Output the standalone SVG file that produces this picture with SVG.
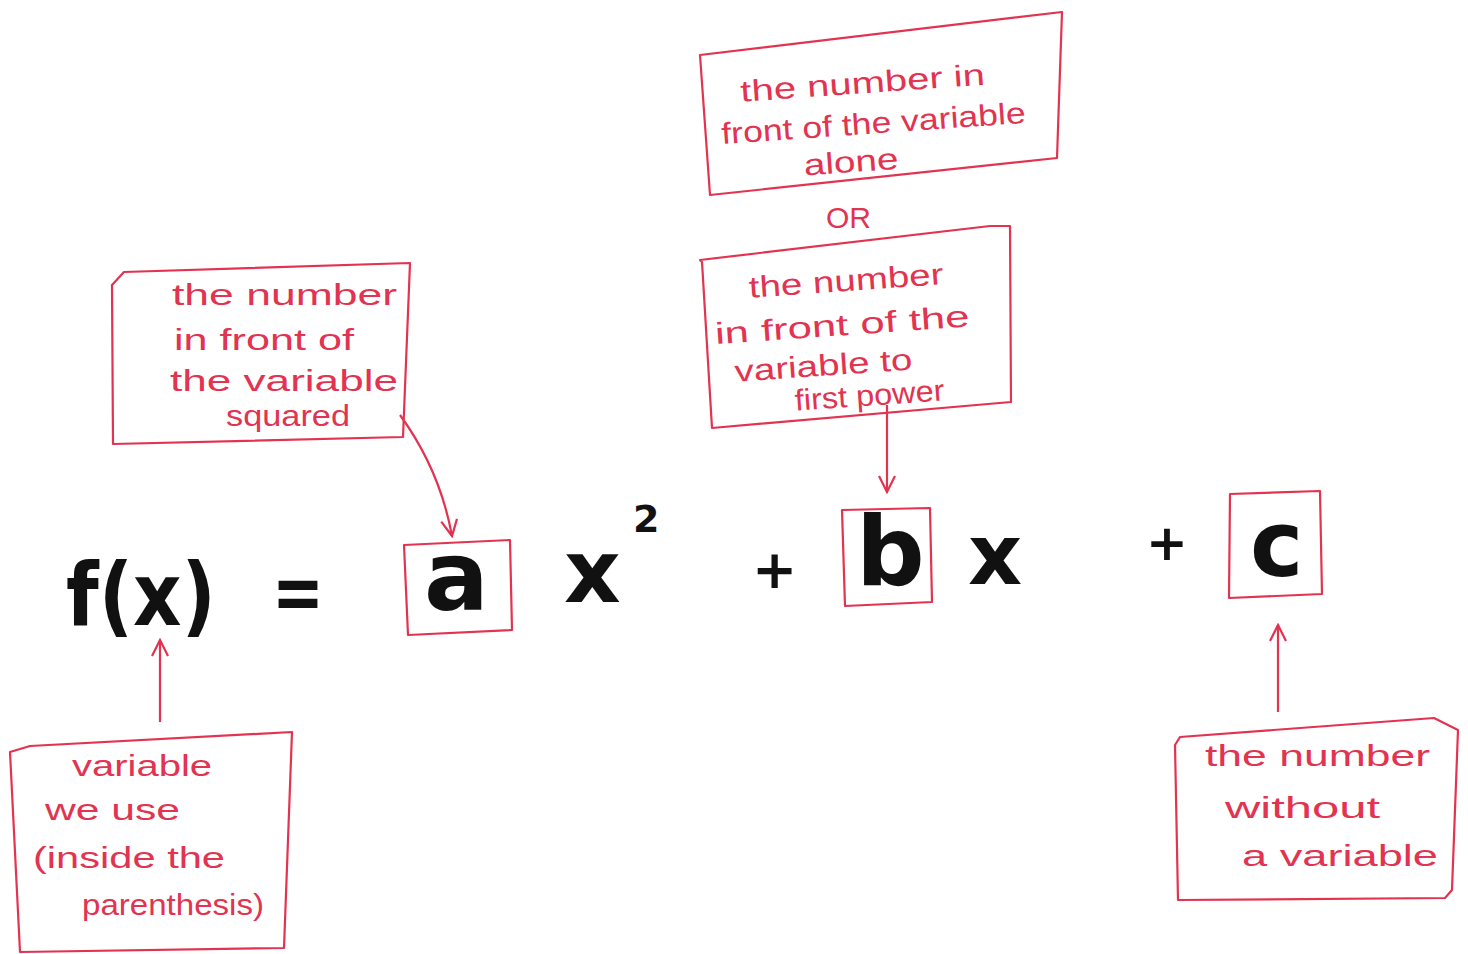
<svg xmlns="http://www.w3.org/2000/svg" width="1468" height="954" viewBox="0 0 1468 954">
<defs>
<style>
.box{fill:none;stroke:#e23350;stroke-width:2.2;stroke-linejoin:round}
.lbl{fill:#e23350;font-family:"Liberation Sans",Arial,sans-serif;font-size:30px}
.eq{fill:#111;font-family:"DejaVu Sans","Liberation Sans",sans-serif;font-weight:bold}
.conn{fill:none;stroke:#e23350;stroke-width:2.2}
</style>
<marker id="ah" viewBox="0 0 20 20" refX="18" refY="10" markerWidth="20" markerHeight="20" markerUnits="userSpaceOnUse" orient="auto">
<path d="M2,2 L18,10 L2,18" fill="none" stroke="#e23350" stroke-width="2.2"/>
</marker>
</defs>
<rect width="1468" height="954" fill="#fff"/>

<g id="equation">
<text class="eq" x="66" y="625" font-size="88" textLength="150" lengthAdjust="spacingAndGlyphs">f(x)</text>
<text class="eq" x="272" y="620" font-size="80" textLength="52" lengthAdjust="spacingAndGlyphs">=</text>
<text class="eq" x="424" y="610" font-size="96">a</text>
<text class="eq" x="564" y="602" font-size="88">x</text>
<text class="eq" x="633" y="532" font-size="38">2</text>
<text class="eq" x="752" y="588" font-size="54">+</text>
<text class="eq" x="856" y="585" font-size="96">b</text>
<text class="eq" x="968" y="584" font-size="84">x</text>
<text class="eq" x="1146" y="560" font-size="50">+</text>
<text class="eq" x="1250" y="576" font-size="90">c</text>
</g>

<g id="box-a">
<polygon class="box" points="404,545 510,540 512,630 408,635"/>
</g>
<g id="box-b">
<polygon class="box" points="842,510 930,508 932,602 845,606"/>
</g>
<g id="box-c">
<polygon class="box" points="1230,494 1320,491 1322,594 1229,598"/>
</g>

<g id="note-alone">
<polygon class="box" points="700,55 1062,12 1057,158 710,195"/>
<g transform="rotate(-4 880 110)">
<text class="lbl" x="742" y="92" textLength="245" lengthAdjust="spacingAndGlyphs">the number in</text>
<text class="lbl" x="720" y="133" textLength="305" lengthAdjust="spacingAndGlyphs">front of the variable</text>
<text class="lbl" x="800" y="170" textLength="95" lengthAdjust="spacingAndGlyphs">alone</text>
</g>
</g>

<g id="or-label">
<text class="lbl" x="826" y="228" font-size="28">OR</text>
</g>

<g id="note-first-power">
<polygon class="box" points="700,260 990,226 1010,226 1011,402 712,428 702,262"/>
<g transform="rotate(-4 860 330)">
<text class="lbl" x="752" y="290" textLength="195" lengthAdjust="spacingAndGlyphs">the number</text>
<text class="lbl" x="715" y="334" textLength="255" lengthAdjust="spacingAndGlyphs">in front of  the</text>
<text class="lbl" x="732" y="373" font-size="28" textLength="178" lengthAdjust="spacingAndGlyphs">variable  to</text>
<text class="lbl" x="790" y="406" font-size="26" textLength="150" lengthAdjust="spacingAndGlyphs">first power</text>
</g>
</g>

<g id="note-squared">
<polygon class="box" points="124,272 410,263 403,437 113,444 112,285"/>
<text class="lbl" x="172" y="305" font-size="34" textLength="225" lengthAdjust="spacingAndGlyphs">the number</text>
<text class="lbl" x="174" y="350" font-size="30" textLength="180" lengthAdjust="spacingAndGlyphs">in front of</text>
<text class="lbl" x="170" y="391" font-size="32" textLength="228" lengthAdjust="spacingAndGlyphs">the variable</text>
<text class="lbl" x="226" y="426" font-size="28" textLength="124" lengthAdjust="spacingAndGlyphs">squared</text>
</g>

<g id="note-variable">
<polygon class="box" points="30,746 292,732 284,948 20,952 10,752"/>
<text class="lbl" x="72" y="776" font-size="34" textLength="140" lengthAdjust="spacingAndGlyphs">variable</text>
<text class="lbl" x="45" y="820" font-size="32" textLength="135" lengthAdjust="spacingAndGlyphs">we use</text>
<text class="lbl" x="33" y="868" font-size="32" textLength="192" lengthAdjust="spacingAndGlyphs">(inside  the</text>
<text class="lbl" x="82" y="915" font-size="32" textLength="182" lengthAdjust="spacingAndGlyphs">parenthesis)</text>
</g>

<g id="note-constant">
<polygon class="box" points="1180,737 1434,718 1458,730 1452,890 1445,898 1178,900 1175,745"/>
<text class="lbl" x="1205" y="766" font-size="34" textLength="225" lengthAdjust="spacingAndGlyphs">the number</text>
<text class="lbl" x="1225" y="818" font-size="34" textLength="155" lengthAdjust="spacingAndGlyphs">without</text>
<text class="lbl" x="1242" y="866" font-size="34" textLength="196" lengthAdjust="spacingAndGlyphs">a variable</text>
</g>

<g id="connectors">
<path class="conn" d="M400,415 Q440,470 452,536" marker-end="url(#ah)"/>
<path class="conn" d="M887,405 L887,492" marker-end="url(#ah)"/>
<path class="conn" d="M160,722 L160,640" marker-end="url(#ah)"/>
<path class="conn" d="M1278,712 L1278,625" marker-end="url(#ah)"/>
</g>
</svg>
